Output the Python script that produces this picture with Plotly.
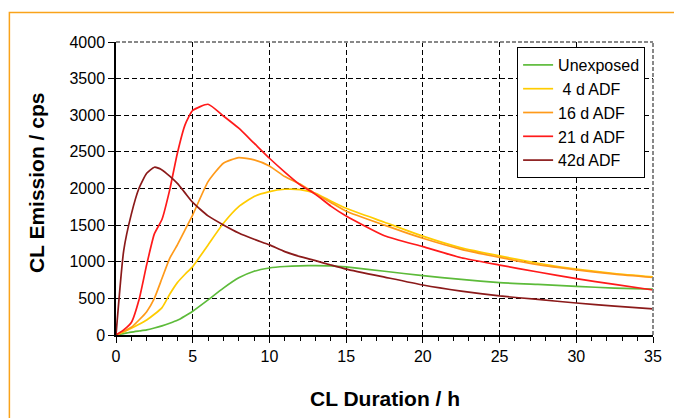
import plotly.graph_objects as go

hours = [0, 0.5, 1, 1.5, 2, 2.5, 3, 3.5, 4, 4.5, 5, 6, 7, 8, 9, 10, 11, 12, 13, 14,
         15, 17.5, 20, 22.5, 25, 27.5, 30, 32.5, 35]

unexposed = [0, 20, 40, 55, 70, 95, 125, 160, 200, 260, 325, 480, 640, 780, 870, 915, 935, 945, 948, 945,
             930, 870, 810, 760, 715, 690, 665, 640, 625]
adf_4d = [0, 41, 91, 146, 205, 283, 374, 556, 715, 829, 934, 1230, 1525, 1753, 1890, 1958, 1990, 1985, 1935, 1830,
          1730, 1540, 1350, 1190, 1080, 980, 900, 840, 795]
adf_16d = [0, 50, 105, 205, 319, 501, 774, 1047, 1230, 1434, 1639, 2094, 2345, 2422, 2390, 2308, 2163, 2060, 1930, 1810,
           1690, 1500, 1320, 1170, 1060, 960, 890, 830, 785]
adf_21d = [0, 70, 170, 480, 960, 1380, 1580, 1981, 2482, 2869, 3065, 3150, 2990, 2823, 2618, 2413, 2225, 2050, 1920, 1760,
           1625, 1355, 1206, 1055, 955, 860, 770, 690, 614]
adf_42d = [0, 1150, 1650, 2003, 2208, 2290, 2254, 2170, 2070, 1940, 1810, 1626, 1503, 1393, 1307, 1230, 1138, 1070, 1015, 956,
           900, 790, 683, 600, 533, 485, 437, 395, 357]

series_names = ["Unexposed", " 4 d ADF", "16 d ADF", "21 d ADF", "42d ADF"]
series_values = [unexposed, adf_4d, adf_16d, adf_21d, adf_42d]
series_colors = ["#5DBB3A", "#FFCC00", "#FF9A1A", "#FF1A1A", "#8B1A1A"]

x_ticks = [0, 5, 10, 15, 20, 25, 30, 35]
y_ticks = [0, 500, 1000, 1500, 2000, 2500, 3000, 3500, 4000]

fig = go.Figure()
for name, vals, col in zip(series_names, series_values, series_colors):
    fig.add_trace(go.Scatter(x=hours, y=vals, mode="lines", name=name,
                             line=dict(color=col, width=1.7, shape="spline", smoothing=0.5)))

FONT = "Liberation Sans, Arial, sans-serif"
L, R, T, B = 116, 14, 42, 83
W, H = 674, 418
pw, ph = W - L - R, H - T - B

def px2paper_x(px):
    return (px - L) / pw

def py2paper_y(py):
    return (H - B - py) / ph

fig.update_layout(
    width=W, height=H,
    margin=dict(l=L, r=R, t=T, b=B),
    paper_bgcolor="white", plot_bgcolor="white",
    font=dict(family=FONT, size=16, color="black"),
    showlegend=True,
    legend=dict(x=px2paper_x(652), y=py2paper_y(47), xanchor="right", yanchor="top",
                bgcolor="white", bordercolor="black", borderwidth=1,
                font=dict(family=FONT, size=16, color="black")),
    xaxis=dict(range=[0, 35], tickvals=x_ticks, ticks="outside", ticklen=6, tickwidth=1,
               tickcolor="black", showline=True, linecolor="black", linewidth=1.5,
               showgrid=True, gridcolor="black", gridwidth=1, griddash="5px,3px",
               zeroline=False, tickfont=dict(size=16),
               minor=dict(dtick=1, ticks="outside", ticklen=4, tickcolor="black", showgrid=False)),
    yaxis=dict(range=[0, 4000], tickvals=y_ticks, ticks="outside", ticklen=6, tickwidth=1,
               tickcolor="black", showline=True, linecolor="black", linewidth=1.5,
               showgrid=True, gridcolor="black", gridwidth=1, griddash="5px,3px",
               zeroline=False, tickfont=dict(size=16)),
    annotations=[
        dict(text="<b>CL Duration / h</b>", xref="paper", yref="paper",
             x=px2paper_x(389), y=py2paper_y(398), xanchor="center", yanchor="middle",
             showarrow=False, font=dict(size=21, family=FONT)),
        dict(text="<b>CL Emission / cps</b>", xref="paper", yref="paper",
             x=px2paper_x(35), y=py2paper_y(183), xanchor="center", yanchor="middle",
             textangle=-90, showarrow=False, font=dict(size=21, family=FONT)),
    ],
    shapes=[
        dict(type="line", xref="paper", yref="paper", x0=0, x1=1, y0=1, y1=1,
             line=dict(color="#888888", width=2, dash="4px,2px")),
        dict(type="line", xref="paper", yref="paper", x0=1, x1=1, y0=0, y1=1,
             line=dict(color="#888888", width=2, dash="4px,2px")),
        dict(type="rect", xref="paper", yref="paper",
             x0=px2paper_x(8), x1=px2paper_x(700), y0=py2paper_y(460), y1=py2paper_y(12.5),
             line=dict(color="#F9A31B", width=1.5), fillcolor="rgba(0,0,0,0)", layer="below"),
    ],
)

fig.write_html("out.html")
